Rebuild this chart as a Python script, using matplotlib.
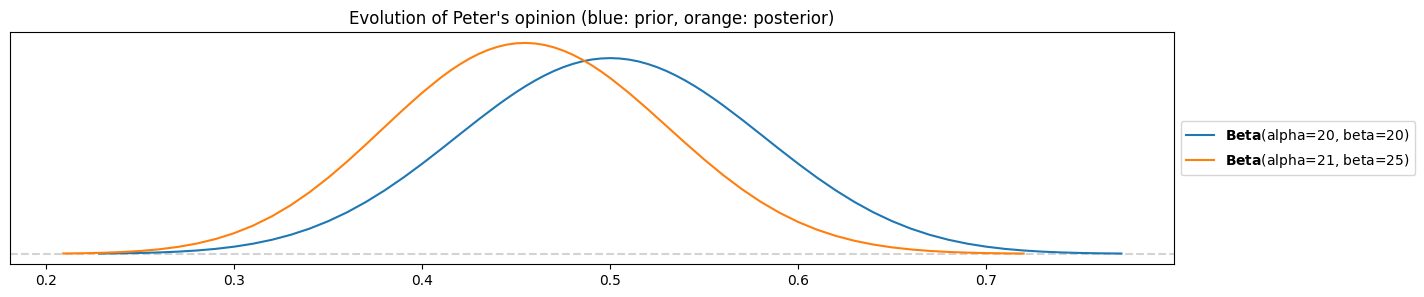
import matplotlib
matplotlib.use("Agg")
import matplotlib.pyplot as plt

# density values (denser near the peaks)
prior_x = [0.228, 0.23, 0.24, 0.25, 0.26, 0.27, 0.28, 0.29, 0.30, 0.31, 0.32,
           0.33, 0.34, 0.35, 0.36, 0.37, 0.38, 0.39, 0.40, 0.41, 0.42, 0.43,
           0.44, 0.445, 0.45, 0.455, 0.46, 0.465, 0.47, 0.475, 0.48, 0.485,
           0.49, 0.495, 0.50, 0.505, 0.51, 0.515, 0.52, 0.525, 0.53, 0.535,
           0.54, 0.545, 0.55, 0.555, 0.56, 0.57, 0.58, 0.59, 0.60, 0.61, 0.62,
           0.63, 0.64, 0.65, 0.66, 0.67, 0.68, 0.69, 0.70, 0.71, 0.72, 0.73,
           0.74, 0.75, 0.76, 0.77, 0.772]
prior_y = [0.0064, 0.0072, 0.0126, 0.0212, 0.0346, 0.0548, 0.0841, 0.1256,
           0.1826, 0.259, 0.359, 0.486, 0.644, 0.836, 1.063, 1.327, 1.625,
           1.954, 2.309, 2.682, 3.064, 3.443,
           3.807, 3.979, 4.143, 4.297, 4.439, 4.568, 4.683, 4.782, 4.864,
           4.930, 4.977, 5.005, 5.015, 5.005, 4.977, 4.930, 4.864, 4.782,
           4.683, 4.568, 4.439, 4.297, 4.143, 3.979, 3.807,
           3.443, 3.064, 2.682, 2.309, 1.954, 1.625, 1.327, 1.063, 0.836,
           0.644, 0.486, 0.359, 0.259, 0.1826, 0.1256, 0.0841, 0.0548,
           0.0346, 0.0212, 0.0126, 0.0072, 0.0064]

post_x = [0.209, 0.21, 0.22, 0.23, 0.24, 0.25, 0.26, 0.27, 0.28, 0.29, 0.30,
          0.31, 0.32, 0.33, 0.34, 0.35, 0.36, 0.37, 0.38, 0.39, 0.40, 0.41,
          0.415, 0.42, 0.425, 0.43, 0.435, 0.44, 0.445, 0.45, 0.455, 0.46,
          0.465, 0.47, 0.475, 0.48, 0.485, 0.49, 0.495, 0.50, 0.51,
          0.52, 0.53, 0.54, 0.55, 0.56, 0.57, 0.58, 0.59, 0.60, 0.61, 0.62,
          0.63, 0.64, 0.65, 0.66, 0.67, 0.68, 0.69, 0.70, 0.71, 0.72]
post_y = [0.0072, 0.0077, 0.0144, 0.0257, 0.0439, 0.0723, 0.1148, 0.1762,
          0.2619, 0.3777, 0.5294, 0.7221, 0.9599, 1.2447, 1.5762, 1.9510,
          2.3624, 2.8005, 3.2513, 3.700, 4.1286, 4.5197,
          4.6956, 4.8555, 4.998, 5.1209, 5.2231, 5.3033, 5.3606, 5.3943,
          5.4042, 5.390, 5.3521, 5.2913, 5.2081, 5.1039, 4.9796, 4.837,
          4.678, 4.5047, 4.1218,
          3.7055, 3.2723, 2.8382, 2.4173, 2.0212, 1.6585, 1.3351,
          1.0540, 0.8155, 0.6182, 0.4588, 0.3331, 0.2365, 0.1640, 0.1110,
          0.0733, 0.0471, 0.0294, 0.0179, 0.0105, 0.0060]

labels = [r"$\bf{Beta}$(alpha=20, beta=20)", r"$\bf{Beta}$(alpha=21, beta=25)"]
title = "Evolution of Peter's opinion (blue: prior, orange: posterior)"

fig = plt.figure(figsize=(14.24, 2.97), dpi=100)
ax = fig.add_axes([0.0072, 0.110, 0.817, 0.781])

ax.axhline(0, color="lightgray", linestyle="--", zorder=0)
ax.plot(prior_x, prior_y, color="tab:blue", label=labels[0])
ax.plot(post_x, post_y, color="tab:orange", label=labels[1])

ax.set_xlim(0.1808, 0.7998)
ax.set_yticks([])
ax.set_title(title)
ax.legend(loc="center left", bbox_to_anchor=(1, 0.5))

fig.savefig("out.png", dpi=100)
